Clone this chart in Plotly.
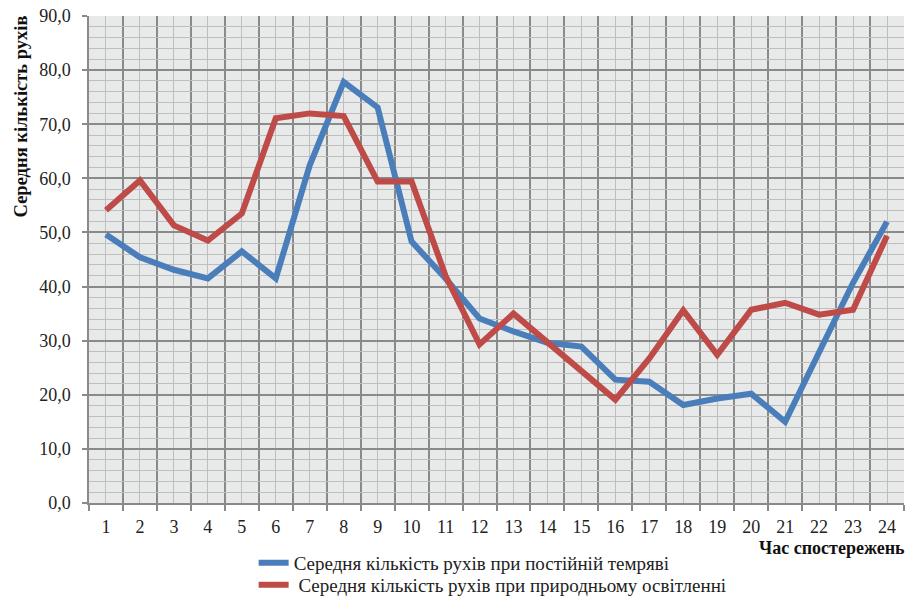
import plotly.graph_objects as go

hours = list(range(1, 25))
dark_vals = [49.6, 45.4, 43.1, 41.5, 46.5, 41.5, 62.4, 77.8, 73.1, 48.3, 41.5, 34.1,
             31.7, 29.6, 28.9, 22.8, 22.4, 18.1, 19.3, 20.2, 15.0, 27.8, 40.7, 52.0]
light_vals = [54.1, 59.6, 51.3, 48.5, 53.5, 71.1, 72.0, 71.5, 59.4, 59.4, 42.0, 29.3,
              35.0, 29.8, 24.3, 19.1, 26.7, 35.6, 27.4, 35.7, 37.0, 34.8, 35.7, 49.4]
name_dark = "Середня кількість рухів при постійній темряві"
name_light = " Середня кількість рухів при природньому освітленні"
x_title = "Час спостережень"
y_title = "Середня кількість рухів"

FONT = "Liberation Serif, Times New Roman, serif"
MAJOR = "#8A8A8A"
MINOR = "#BEBEBE"

fig = go.Figure()
fig.add_trace(go.Scatter(x=hours, y=dark_vals, mode="lines", name=name_dark,
                         line=dict(color="#4A7EBB", width=6), legend="legend"))
fig.add_trace(go.Scatter(x=hours, y=light_vals, mode="lines", name=name_light,
                         line=dict(color="#BE4B48", width=6), legend="legend2"))

fig.update_layout(
    width=919, height=601,
    margin=dict(l=89, r=15, t=16, b=98, autoexpand=False),
    paper_bgcolor="white",
    plot_bgcolor="#E8E9E9",
    separators=", ",
    font=dict(family=FONT, size=18, color="#222"),
    xaxis=dict(
        range=[0.5, 24.5], tick0=1, dtick=1, tickmode="linear", automargin=False,
        showgrid=True, gridcolor=MINOR, gridwidth=1.3,
        ticks="", showline=True, linecolor=MAJOR, linewidth=1.5,
        zeroline=False, tickfont=dict(size=18, family=FONT), ticklabelstandoff=7,
        minor=dict(tick0=0.5, dtick=1, showgrid=True, gridcolor=MAJOR, gridwidth=1.6,
                   ticks="outside", ticklen=6, tickcolor=MAJOR, tickwidth=1.5),
    ),
    yaxis=dict(
        range=[0, 90], tick0=0, dtick=10, tickformat=".1f", automargin=False,
        showgrid=True, gridcolor=MAJOR, gridwidth=1.6,
        ticks="outside", ticklen=5, tickcolor=MAJOR, tickwidth=1.5,
        showline=True, linecolor=MAJOR, linewidth=1.5, zeroline=False,
        tickfont=dict(size=18, family=FONT), ticklabelstandoff=8,
        minor=dict(dtick=2, showgrid=True, gridcolor=MINOR, gridwidth=1.3),
    ),
    legend=dict(x=0.202, y=-0.123, xanchor="left", yanchor="middle",
                font=dict(size=19, family=FONT), bgcolor="rgba(0,0,0,0)"),
    legend2=dict(x=0.202, y=-0.168, xanchor="left", yanchor="middle",
                 font=dict(size=19, family=FONT), bgcolor="rgba(0,0,0,0)"),
    showlegend=True,
)

fig.add_annotation(text="<b>" + x_title + "</b>", xref="paper", yref="paper",
                   x=1.004, y=-0.093, xanchor="right", yanchor="middle", showarrow=False,
                   font=dict(size=18, family=FONT, color="#111"))
fig.add_annotation(text="<b>" + y_title + "</b>", xref="paper", yref="paper",
                   x=-0.083, y=1.006, xanchor="center", yanchor="top", textangle=-90,
                   showarrow=False, font=dict(size=18.5, family=FONT, color="#111"))

fig.write_html("out.html", config={"displayModeBar": False},
               post_script="document.body.style.margin='0px';")
